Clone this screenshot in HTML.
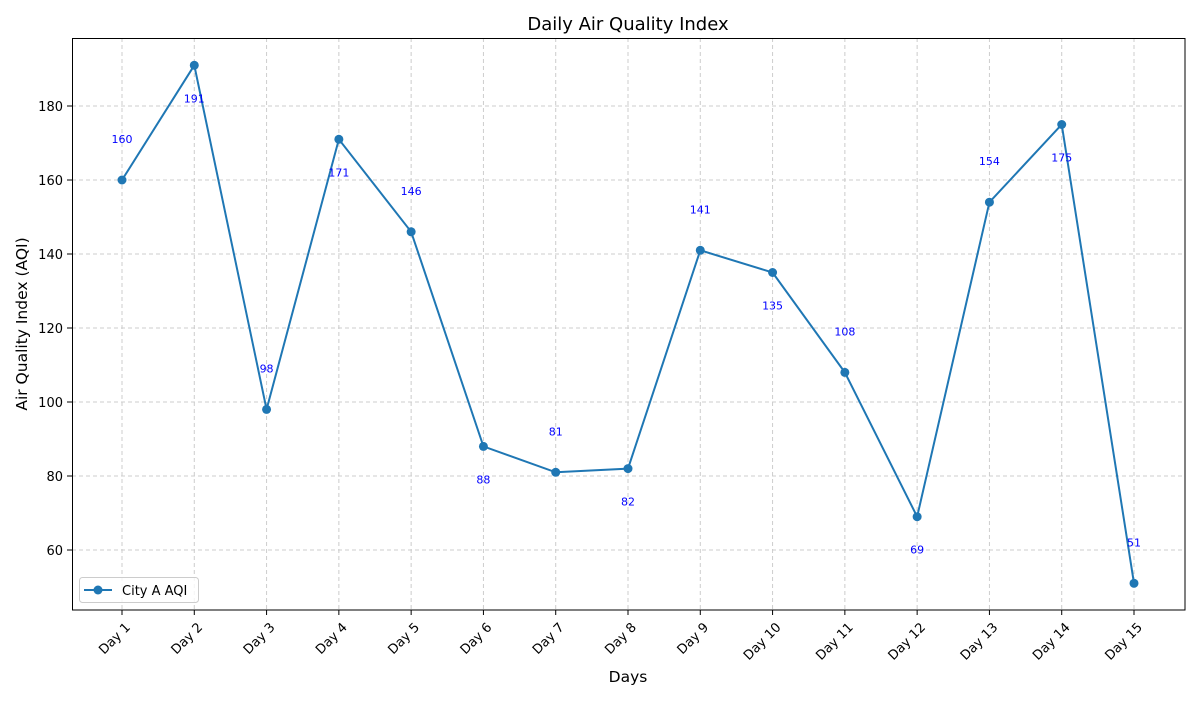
<!DOCTYPE html>
<html><head><meta charset="utf-8"><style>
body{margin:0;background:#fff}
text{font-family:"DejaVu Sans","Liberation Sans",sans-serif}
</style></head><body>
<svg id="chart" width="1200" height="700" xmlns="http://www.w3.org/2000/svg">
<text x="628" y="30" text-anchor="middle" font-size="18">Daily Air Quality Index</text>
<text x="628" y="682" text-anchor="middle" font-size="15.5">Days</text>
<text transform="translate(27,324) rotate(-90)" text-anchor="middle" font-size="15.5">Air Quality Index (AQI)</text>
<g id="grid"></g><g id="axes"></g><g id="series"></g>
<rect x="72.5" y="38.5" width="1112.5" height="571.5" fill="none" stroke="#000" stroke-width="1"/>
<g>
<rect x="79.5" y="577.5" width="119" height="25" rx="3" fill="#fff" fill-opacity="0.8" stroke="#ccc"/>
<line x1="84" y1="590" x2="112" y2="590" stroke="#1f77b4" stroke-width="2"/>
<circle cx="98" cy="590" r="4.5" fill="#1f77b4"/>
<text x="122" y="595" font-size="13">City A AQI</text>
</g>
</svg>
<script>
const categories=["Day 1","Day 2","Day 3","Day 4","Day 5","Day 6","Day 7","Day 8","Day 9","Day 10","Day 11","Day 12","Day 13","Day 14","Day 15"];
const aqiValues=[160,191,98,171,146,88,81,82,141,135,108,69,154,175,51];
const yTicks=[60,80,100,120,140,160,180];
const NS="http://www.w3.org/2000/svg";
const xS=i=>122+i*(1134-122)/14;
const yS=v=>550-(v-60)*3.7;
function mk(t,a,p){const e=document.createElementNS(NS,t);for(const k in a)e.setAttribute(k,a[k]);p.appendChild(e);return e;}
const grid=document.getElementById('grid'),axes=document.getElementById('axes'),ser=document.getElementById('series');
yTicks.forEach(v=>{const y=yS(v);
const g=mk('line',{x1:72,x2:1185,y1:y,y2:y,stroke:'#ccc','stroke-dasharray':'4,3'},grid);


mk('line',{x1:67,x2:72,y1:y,y2:y,stroke:'#000'},axes);
const t=mk('text',{x:63,y:y+5,'text-anchor':'end','font-size':13},axes);t.textContent=v;

});
categories.forEach((c,i)=>{const x=xS(i);
const g=mk('line',{x1:x,x2:x,y1:38,y2:610,stroke:'#ccc','stroke-dasharray':'4,3'},grid);


mk('line',{x1:x,x2:x,y1:610,y2:615,stroke:'#000'},axes);
const t=mk('text',{transform:`translate(${x+9},${628}) rotate(-45)`,'text-anchor':'end','font-size':13},axes);t.textContent=c;

});
const line=mk('polyline',{points:aqiValues.map((v,i)=>xS(i)+','+yS(v)).join(' '),fill:'none',stroke:'#1f77b4','stroke-width':2},ser);


aqiValues.forEach((v,i)=>{
const c=mk('circle',{cx:xS(i),cy:yS(v),r:4.5,fill:'#1f77b4'},ser);


const off=i%2===0?-41:33;
const t=mk('text',{x:xS(i),y:yS(v)+off+4,'text-anchor':'middle','font-size':11,fill:'#0000ff'},ser);t.textContent=v;

});
</script>
</body></html>
